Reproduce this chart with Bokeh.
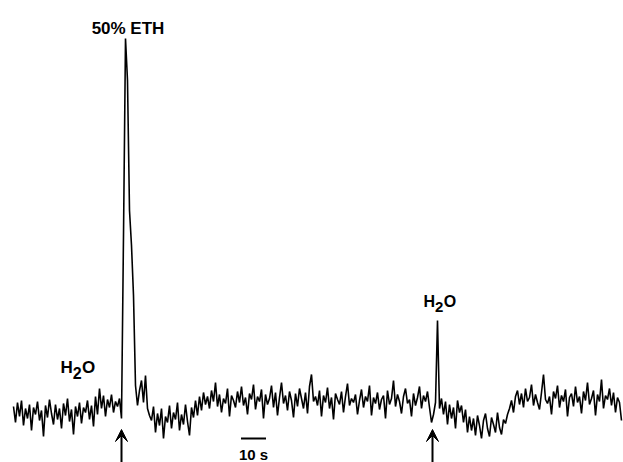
from bokeh.plotting import figure
from bokeh.models import Range1d, Label, Arrow, VeeHead, ColumnDataSource
from bokeh.embed import file_html
from bokeh.resources import INLINE

# Recording: signal (arbitrary units, baseline ~0), sampled every 0.8 s
SAMPLE_DT = 0.8
seg_pre = [4, -12, 8, -6, 10, -15, 2, -8, 6, -20, 3, -4, 9, -10, 0, -26, 5, -7, 11, -3,
           -14, 6, -9, 2, -18, 7, -5, 12, -11, 1, -24, 4, -6, 8, -13, 3, -2, 10, -9, 5,
           -16, 14, -4, 22, 2, 15, -6, 11, 3, 16, -2, 9, 4, 12, -8]
seg_eth_peak = [175, 372, 330, 200, 165, 115, 25, 5, 20, 30, 8, 35, 2, -5]
seg_post_eth = [-10, 4, -22, -3, -15, 2, -28, -6, -12, 5, -18, -2, -9, 8, -20, -4, -14, 6,
                -11, -25, 3, -7, 10, -5, 14]
seg_plateau = [0, 18, 6, 14, 2, 20, 9, 28, 4, 16, -2, 12, 7, 22, -6, 15, 10, 3, 19, 8,
               24, 5, 13, -4, 17, 11, 26, 1, 14, 9, 21, -8, 16, 6, 12, 25, 3, 18, -5, 13,
               28, 7, 15, 0, 19, 10, -7, 17, 4, 22, 12, 2, 18, -3, 24, 36, 9, 14, 5, 20,
               -6, 15, 8, 23, 2, 13, -9, 17, 11, 6, 19, -2, 14, 27, 5, 12, 8, 16, -4, 10,
               21, 3, 14, 9, 25, -5, 13, 7, 18, 1, 11, 15, -8, 20, 6, 12, 30, 4, 16, 9,
               -3, 14, 22, 7, 11, -6, 17, 5, 13, 24, 2, 15, 9, 19, 3]
seg_h2o = [-12, -4, 8, 90, 2, 12, -4, 9, -14, 6, -8, 3, -18, 10, -2, 5, -12, 1, -22, -6]
seg_dip = [-20, -8, -25, -5, -15, -28, -10, -3, -18, -26, -7, -14, -22, -2, -17, -24, -9,
           -13, -4, 2]
seg_end = [10, -2, 14, 20, 6, 17, 3, 22, 9, 13, 26, 5, 16, 8, 1, 18, 36, 11, 7, 14,
           -4, 19, 12, 25, 3, 15, 9, 21, -6, 13, 17, 4, 24, 8, 14, -3, 19, 10, 28, 6,
           12, 20, -5, 16, 9, 31, 2, 15, 11, 22, 5, 18, -2, 13, 8, -10]

signal = seg_pre + seg_eth_peak + seg_post_eth + seg_plateau + seg_h2o + seg_dip + seg_end
times = [i * SAMPLE_DT for i in range(len(signal))]

stim_times = [43.2, 167.6]          # arrows (s)
scale_bar_t = [91.0, 101.0]         # 10 s scale bar

FONT = "Liberation Sans"

p = figure(width=623, height=462, output_backend="svg", toolbar_location=None,
           x_range=Range1d(-5.2, 244.0), y_range=Range1d(-52, 410),
           min_border=0, min_border_left=0, min_border_right=0,
           min_border_top=0, min_border_bottom=0)
p.axis.visible = False
p.grid.visible = False
p.outline_line_color = None
p.background_fill_color = "white"
p.border_fill_color = "white"

src = ColumnDataSource(dict(t=times, s=signal))
p.line("t", "s", source=src, line_color="black", line_width=1.6)

# scale bar
p.segment(x0=[scale_bar_t[0]], y0=[-28], x1=[scale_bar_t[1]], y1=[-28],
          line_color="black", line_width=2)
p.add_layout(Label(x=(scale_bar_t[0] + scale_bar_t[1]) / 2, y=-44, text="10 s",
                   text_font=FONT, text_font_style="bold", text_font_size="15px",
                   text_align="center", text_baseline="alphabetic", text_color="black"))

# stimulus arrows
for ts in stim_times:
    p.add_layout(Arrow(end=VeeHead(size=12, fill_color="black", line_color="black"),
                       x_start=ts, y_start=-52, x_end=ts, y_end=-19,
                       line_color="black", line_width=2))

# labels
p.add_layout(Label(x=45.8, y=382, text="50% ETH", text_font=FONT, text_font_style="bold",
                   text_font_size="17px", text_align="center",
                   text_baseline="alphabetic", text_color="black"))


def h2o(x, y, size):
    parts = [("H", 0, 0, size), ("2", 0.72 * size, -0.33 * size, size - 1),
             ("O", 0.72 * size + 0.58 * (size - 1), 0, size)]
    for txt, dx, dy, sz in parts:
        p.add_layout(Label(x=x, y=y, x_offset=dx, y_offset=dy, text=txt, text_font=FONT,
                           text_font_style="bold", text_font_size=f"{sz}px",
                           text_align="left", text_baseline="alphabetic",
                           text_color="black"))


h2o(18.8, 43, 17)
h2o(164.0, 109, 16)

open("out.html", "w").write(file_html(p, INLINE))
